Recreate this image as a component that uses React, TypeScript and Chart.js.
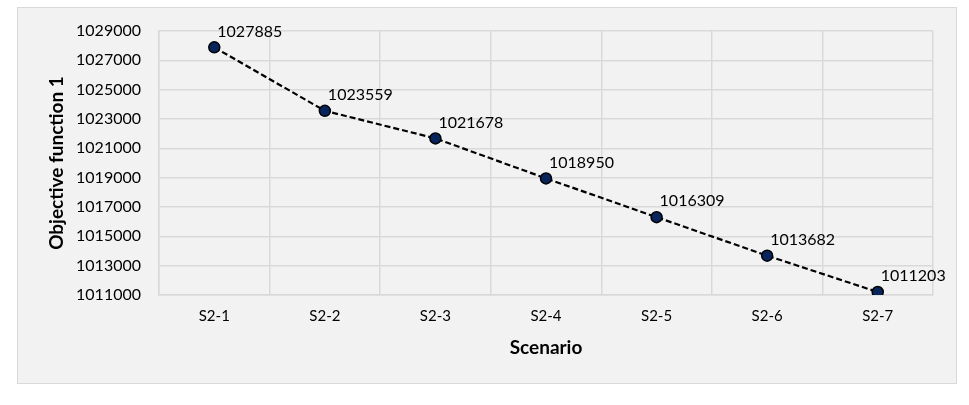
import React, { useEffect, useRef } from "react";
import { Chart, registerables } from "chart.js";

Chart.register(...registerables);

const categories = ["S2-1", "S2-2", "S2-3", "S2-4", "S2-5", "S2-6", "S2-7"];
const objectiveValues = [1027885, 1023559, 1021678, 1018950, 1016309, 1013682, 1011203];
const yMin = 1011000;
const yMax = 1029000;
const yStep = 2000;

const FONT = "Lato, 'Open Sans', 'Noto Sans', sans-serif";

const boxPlugin = {
  id: "boxBg",
  beforeDraw(chart: any) {
    const ctx = chart.ctx;
    ctx.save();
    ctx.fillStyle = "#ffffff";
    ctx.fillRect(0, 0, chart.width, chart.height);
    ctx.fillStyle = "#f2f2f2";
    ctx.fillRect(17, 7, 939, 376);
    ctx.strokeStyle = "#d9d9d9";
    ctx.lineWidth = 1;
    ctx.strokeRect(17.5, 7.5, 939, 376);
    ctx.restore();
  },
};

const labelPlugin = {
  id: "pointLabels",
  afterDatasetsDraw(chart: any) {
    const ctx = chart.ctx;
    const meta = chart.getDatasetMeta(0);
    const data = chart.data.datasets[0].data;
    ctx.save();
    ctx.font = `16px ${FONT}`;
    ctx.fillStyle = "#000000";
    ctx.textAlign = "left";
    ctx.textBaseline = "middle";
    meta.data.forEach((pt: any, i: number) => {
      ctx.fillText(String(data[i]), pt.x + 3, pt.y - 16);
    });
    ctx.restore();
  },
};

export default function App() {
  const ref = useRef<HTMLCanvasElement | null>(null);
  useEffect(() => {
    if (!ref.current) return;
    const chart = new Chart(ref.current, {
      type: "line",
      data: {
        labels: categories,
        datasets: [
          {
            data: objectiveValues,
            borderColor: "#000000",
            borderWidth: 2.2,
            borderDash: [6, 3],
            pointRadius: 5.5,
            pointBackgroundColor: "#08245c",
            pointBorderColor: "#000000",
            pointBorderWidth: 1.5,
            tension: 0,
            fill: false,
          },
        ],
      },
      options: {
        responsive: false,
        animation: false,
        layout: { padding: { left: 0, top: 31, right: 36, bottom: 0 } },
        plugins: { legend: { display: false }, tooltip: { enabled: false } },
        scales: {
          x: {
            type: "category",
            offset: true,
            grid: { offset: true, color: "#d9d9d9", lineWidth: 1.5, drawTicks: false },
            border: { color: "#d9d9d9", width: 1.5 },
            ticks: { color: "#000000", font: { family: FONT, size: 15 }, padding: 12 },
            title: {
              display: true,
              text: "Scenario",
              color: "#000000",
              font: { family: FONT, size: 19, weight: "bold" },
              padding: { top: 0, bottom: 45.6 },
            },
            afterFit(scale: any) {
              scale.height = 110;
            },
          },
          y: {
            min: yMin,
            max: yMax,
            grid: { color: "#d9d9d9", lineWidth: 1.5, drawTicks: false },
            border: { color: "#d9d9d9", width: 1.5 },
            ticks: {
              stepSize: yStep,
              color: "#000000",
              font: { family: FONT, size: 16 },
              padding: 18,
              callback: (v: any) => String(v),
            },
            title: {
              display: true,
              text: "Objective function 1",
              color: "#000000",
              font: { family: FONT, size: 19, weight: "bold" },
              padding: { top: 45.6, bottom: 0 },
            },
            afterFit(scale: any) {
              scale.width = 159;
            },
          },
        },
      },
      plugins: [boxPlugin, labelPlugin],
    });
    return () => chart.destroy();
  }, []);
  return (
    <canvas
      ref={ref}
      width={969}
      height={405}
      style={{ position: "fixed", left: 0, top: 0, width: 969, height: 405, display: "block" }}
    />
  );
}
